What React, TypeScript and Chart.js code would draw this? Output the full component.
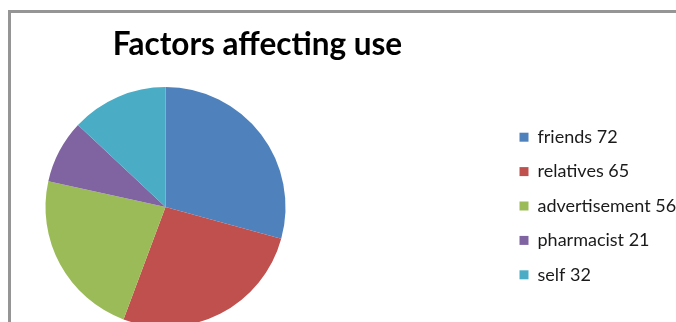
import React, { useEffect, useRef } from "react";
import { Chart, registerables } from "chart.js";

Chart.register(...registerables);

// Factors affecting use: respondent counts per source
const categories = ["friends", "relatives", "advertisement", "pharmacist", "self"];
const counts = [72, 65, 56, 21, 32];
const sliceColors = ["#4F81BD", "#C0504D", "#9BBB59", "#8064A2", "#4BACC6"];
const chartTitle = "Factors affecting use";

const legendLabels = categories.map((c, i) => `${c} ${counts[i]}`);

// Moves the title and the legend to fixed spots after Chart.js has laid out the pie.
const pinBoxes = {
  id: "pinBoxes",
  afterLayout(chart: any, _args: any, opts: any) {
    const legend = chart.legend;
    if (legend) {
      const w = legend.right - legend.left;
      const h = legend.bottom - legend.top;
      legend.left = opts.legendLeft;
      legend.right = opts.legendLeft + w;
      legend.top = opts.legendTop;
      legend.bottom = opts.legendTop + h;
    }
    const title = chart.titleBlock;
    if (title) {
      title.left = opts.titleCenterX - opts.titleHalfWidth;
      title.right = opts.titleCenterX + opts.titleHalfWidth;
      title.width = opts.titleHalfWidth * 2;
    }
  },
};

export default function App() {
  const canvasRef = useRef<HTMLCanvasElement | null>(null);

  useEffect(() => {
    const canvas = canvasRef.current;
    if (!canvas) return;
    const chart = new Chart(canvas, {
      type: "pie",
      data: {
        labels: legendLabels,
        datasets: [
          {
            data: counts,
            backgroundColor: sliceColors,
            borderWidth: 0,
            hoverOffset: 0,
          },
        ],
      },
      plugins: [pinBoxes],
      options: {
        responsive: false,
        animation: false,
        events: [],
        layout: {
          padding: { left: 45.5, right: 390.5, top: 25.9, bottom: 13 },
        },
        plugins: {
          tooltip: { enabled: false },
          title: {
            display: true,
            text: chartTitle,
            color: "#000000",
            font: { family: "Lato", size: 31.5, weight: "bold", lineHeight: 1.2 },
            padding: { top: 0, bottom: 23.3 },
          },
          legend: {
            display: true,
            position: "chartArea",
            align: "center",
            labels: {
              color: "#1a1a1a",
              font: { family: "Lato", size: 18 },
              boxWidth: 9,
              boxHeight: 9,
              padding: 16.4,
            },
          },
          pinBoxes: {
            legendLeft: 503.1,
            legendTop: 86,
            titleCenterX: 257.5,
            titleHalfWidth: 240,
          },
        } as any,
      },
    });
    return () => chart.destroy();
  }, []);

  return (
    <div
      style={{
        position: "fixed",
        left: 0,
        top: 0,
        width: 676,
        height: 322,
        overflow: "hidden",
        background: "#ffffff",
      }}
    >
      <div
        style={{
          position: "absolute",
          left: 8,
          top: 10,
          width: 720,
          height: 400,
          borderTop: "3px solid #959595",
          borderLeft: "3px solid #959595",
        }}
      />
      <canvas
        ref={canvasRef}
        width={676}
        height={340}
        style={{ position: "absolute", left: 0, top: 0, width: 676, height: 340 }}
      />
    </div>
  );
}
